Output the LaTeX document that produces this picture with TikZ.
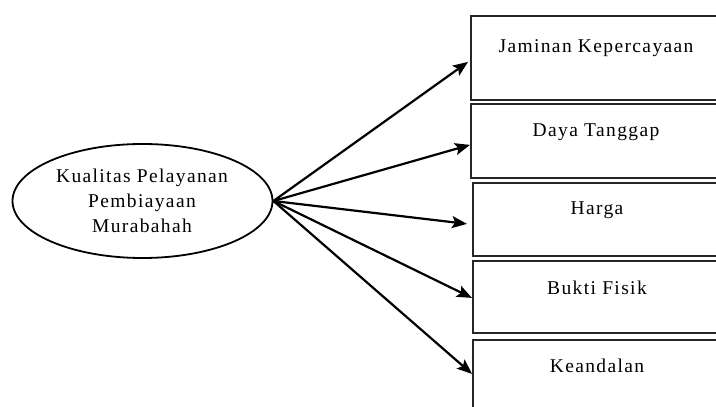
\documentclass[tikz,border=0pt]{standalone}
\usepackage{fontspec}
\setmainfont{Liberation Serif}[LetterSpace=7]
\usetikzlibrary{arrows.meta,shapes.geometric}
\begin{document}
\begin{tikzpicture}[x=1pt,y=1pt,
  box/.style={draw=black!85, line width=1.8pt, rectangle, minimum width=250pt, inner sep=0pt, anchor=north west},
  lbl/.style={font=\fontsize{19.5}{22}\selectfont, anchor=base, inner sep=0pt, text=black},
  arr/.style={line width=2.2pt, draw=black, -{Stealth[length=15pt,width=12pt,inset=3pt]}}]
\useasboundingbox (0,0) rectangle (716,407);
\clip (0,0) rectangle (716,407);
\fill[white] (0,0) rectangle (716,407);
\node[draw=black, line width=1.8pt, ellipse, minimum width=260pt, minimum height=114pt, inner sep=0pt] (ell) at (142.5,206) {};
\node[lbl] (t1) at (142,224) {Kualitas Pelayanan};
\node[lbl] (t2) at (142,199) {Pembiayaan};
\node[lbl] (t3) at (142,174) {Murabahah};
\node[box, minimum height=84pt] (b1) at (470,392) {};
\node[box, minimum height=74pt] (b2) at (470,304) {};
\node[box, minimum height=73pt] (b3) at (472,225) {};
\node[box, minimum height=72pt] (b4) at (472,147) {};
\node[box, minimum height=74pt] (b5) at (472,68) {};
\node[lbl] (l1) at (596,354) {Jaminan Kepercayaan};
\node[lbl] (l2) at (596,270) {Daya Tanggap};
\node[lbl] (l3) at (597,192) {Harga};
\node[lbl] (l4) at (597,112) {Bukti Fisik};
\node[lbl] (l5) at (597,34) {Keandalan};
\draw[arr] (ell.east) -- ([yshift=-4pt,xshift=-2pt]b1.west);
\draw[arr] (ell.east) -- ([yshift=-4pt]b2.west);
\draw[arr] (ell.east) -- ([yshift=-4.5pt,xshift=-5pt]b3.west);
\draw[arr] (ell.east) -- ([yshift=-1pt]b4.west);
\draw[arr] (ell.east) -- ([yshift=3pt]b5.west);
\end{tikzpicture}
\end{document}
